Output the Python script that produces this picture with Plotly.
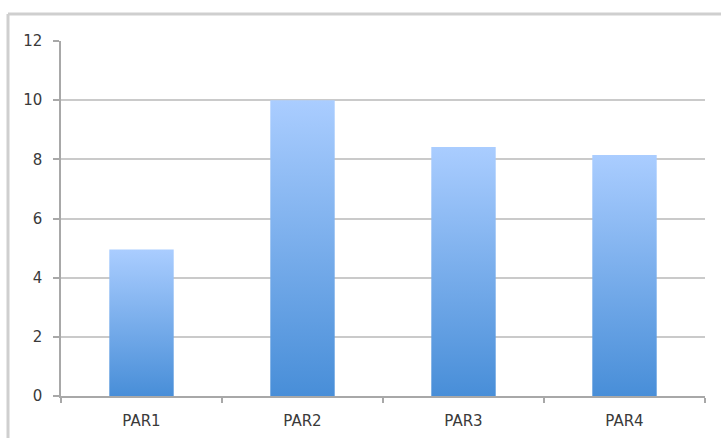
import plotly.graph_objects as go

# Chart data
categories = ["PAR1", "PAR2", "PAR3", "PAR4"]
values = [4.95, 10.0, 8.42, 8.15]
y_ticks = [0, 2, 4, 6, 8, 10, 12]

# Styling
BAR_WIDTH = 0.40
BAR_TOP = "rgb(170,205,255)"
BAR_BOTTOM = "rgb(72,142,216)"
GRID = "#cacaca"
AXIS = "#a8a8a8"
TEXT = "#3a3a3a"
FONT = "DejaVu Sans"
FONT_SIZE = 15

W, H = 721, 438
ML, MR, MT, MB = 61, 16, 41, 42

fig = go.Figure()

# One filled polygon per bar so each bar gets its own vertical gradient
for i, (cat, v) in enumerate(zip(categories, values)):
    x0, x1 = i - BAR_WIDTH / 2, i + BAR_WIDTH / 2
    fig.add_trace(go.Scatter(
        x=[x0, x1, x1, x0, x0],
        y=[0, 0, v, v, 0],
        mode="lines",
        line=dict(width=0),
        fill="toself",
        fillgradient=dict(
            type="vertical",
            colorscale=[[0, BAR_BOTTOM], [1, BAR_TOP]],
        ),
        name=cat,
        hoverinfo="skip",
        showlegend=False,
    ))

n = len(categories)
boundaries = [i - 0.5 for i in range(n + 1)]

fig.update_xaxes(
    range=[-0.5, n - 0.5],
    tickmode="array",
    tickvals=list(range(n)),
    ticktext=categories,
    ticks="",
    ticklabelstandoff=10,
    automargin=False,
    showgrid=False,
    zeroline=False,
    showline=True,
    linecolor=AXIS,
    linewidth=1.5,
    tickfont=dict(family=FONT, size=FONT_SIZE, color=TEXT),
    minor=dict(
        tickmode="array",
        tickvals=boundaries,
        ticks="outside",
        ticklen=5,
        tickwidth=1.5,
        tickcolor=AXIS,
        showgrid=False,
    ),
    fixedrange=True,
)

fig.update_yaxes(
    range=[0, 12],
    tickmode="array",
    tickvals=y_ticks,
    ticks="outside",
    ticklen=6,
    tickwidth=1.5,
    tickcolor=AXIS,
    ticklabelstandoff=8,
    automargin=False,
    showgrid=True,
    gridcolor=GRID,
    gridwidth=2,
    zeroline=False,
    showline=True,
    linecolor=AXIS,
    linewidth=1.5,
    tickfont=dict(family=FONT, size=FONT_SIZE, color=TEXT),
    fixedrange=True,
)

# Outer chart frame (left and top edges visible)
pw, ph = W - ML - MR, H - MT - MB
fx = (8 - ML) / pw
fy = 1 + (MT - 14) / ph
frame = dict(type="line", xref="paper", yref="paper",
             line=dict(color="#cfcfcf", width=3), layer="below")
fig.add_shape(**frame, x0=fx, y0=-1, x1=fx, y1=fy)
fig.add_shape(**frame, x0=fx, y0=fy, x1=2, y1=fy)

fig.update_layout(
    width=W,
    height=H,
    margin=dict(l=ML, r=MR, t=MT, b=MB),
    paper_bgcolor="white",
    plot_bgcolor="white",
    font=dict(family=FONT, color=TEXT),
)

fig.write_html("out.html", config={"displayModeBar": False})
